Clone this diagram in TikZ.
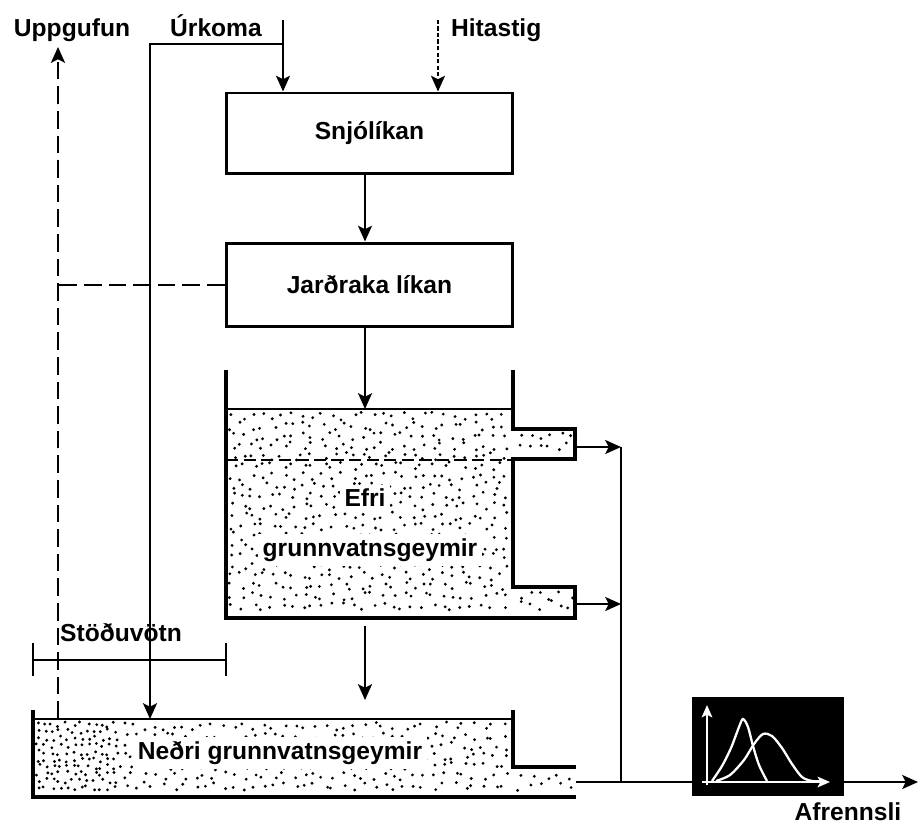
\documentclass[tikz,border=0pt]{standalone}
\usepackage{fontspec}
\setmainfont{Liberation Sans}
\usetikzlibrary{arrows.meta}
\begin{document}
\begin{tikzpicture}[x=0.02cm,y=-0.02cm,
  lbl/.style={font=\bfseries\fontsize{14}{16}\selectfont, inner sep=1pt},
  clearlbl/.style={lbl, fill=white, inner sep=2.5pt},
  modbox/.style={draw, line width=1.7pt, minimum width=5.74cm, font=\bfseries\fontsize{14}{16}\selectfont},
  conn/.style={line width=1.1pt},
  arr/.style={-{Stealth[length=9pt,width=8pt,inset=2pt]}},
  wall/.style={line width=1.8pt, line join=miter},
  longdash/.style={line width=1.2pt, dash pattern=on 10pt off 4pt},
  finedash/.style={line width=1pt, dash pattern=on 2.3pt off 1.4pt},
  tankdash/.style={line width=1.2pt, dash pattern=on 7pt off 3pt},
  dot/.style={fill=black}]
\useasboundingbox (0,0) rectangle (920,824);

% ---------- stipple (jittered grid) ----------
\pgfmathsetseed{42}
\foreach \gx in {229,239,...,505}{
  \foreach \gy in {412,422,...,608}{
    \pgfmathsetmacro\xx{\gx+8*rnd}\pgfmathsetmacro\yy{\gy+8*rnd}
    \fill[dot] (\xx,\yy) circle (0.9pt);}}
\foreach \gx in {516,526,...,566}{
  \foreach \gy in {432,442}{
    \pgfmathsetmacro\xx{\gx+7*rnd}\pgfmathsetmacro\yy{\gy+9*rnd}
    \fill[dot] (\xx,\yy) circle (0.9pt);}
  \foreach \gy in {590,600}{
    \pgfmathsetmacro\xx{\gx+7*rnd}\pgfmathsetmacro\yy{\gy+10*rnd}
    \fill[dot] (\xx,\yy) circle (0.9pt);}}
\foreach \gx in {36,43,...,113}{
  \foreach \gy in {722,729,...,788}{
    \pgfmathsetmacro\xx{\gx+5*rnd}\pgfmathsetmacro\yy{\gy+5*rnd}
    \fill[dot] (\xx,\yy) circle (0.9pt);}}
\foreach \gx in {120,130,...,505}{
  \foreach \gy in {722,732,...,782}{
    \pgfmathsetmacro\xx{\gx+8*rnd}\pgfmathsetmacro\yy{\gy+8*rnd}
    \fill[dot] (\xx,\yy) circle (0.9pt);}}
\foreach \gx in {516,528,...,564}{
  \foreach \gy in {771,783}{
    \pgfmathsetmacro\xx{\gx+9*rnd}\pgfmathsetmacro\yy{\gy+9*rnd}
    \fill[dot] (\xx,\yy) circle (0.9pt);}}

% ---------- upper tank ----------
\draw[wall] (226,370) -- (226,618) -- (575,618) -- (575,587) -- (513,587) -- (513,459)
  -- (575,459) -- (575,429) -- (513,429) -- (513,370);
\draw[line width=1.3pt] (226,409) -- (513,409);
\draw[tankdash] (226,460) -- (513,460);
\node[clearlbl] (efri) at (365,498) {Efri};
\node[clearlbl] (efri2) at (370,550) {grunnvatnsgeymir};

% ---------- lower tank ----------
\draw[wall] (33,710) -- (33,797) -- (576,797);
\draw[wall] (513,710) -- (513,767) -- (576,767);
\draw[line width=1.3pt] (33,719) -- (513,719);
\node[clearlbl] (nedri) at (280,753) {Neðri grunnvatnsgeymir};

% ---------- model boxes ----------
\node[modbox, minimum height=1.62cm] (snow) at (369.5,133.5) {Snjólíkan};
\node[modbox, minimum height=1.68cm] (jar) at (369.5,285) {Jarðraka líkan};

% ---------- labels ----------
\node[lbl, anchor=base] (upg) at (72,37) {Uppgufun};
\node[lbl, anchor=base] (urk) at (216,37) {Úrkoma};
\node[lbl, anchor=base west] (hit) at (449,37) {Hitastig};
\node[lbl] (stod) at (121,633) {Stöðuvötn};
\node[lbl] (afr) at (848,812) {Afrennsli};

% ---------- coordinates ----------
\coordinate (urk0) at (283,20);
\coordinate (urkJ) at (283,44);
\coordinate (urkL) at (150,44);
\coordinate (hit0) at (438,20);
\coordinate (upg0) at (58,719);
\coordinate (upg1) at (58,47);
\coordinate (utop) at (365,409);
\coordinate (ubot) at (365,626);
\coordinate (ltop) at (365,700);
\coordinate (lwt) at (150,719);
\coordinate (o1) at (576,447);
\coordinate (o2) at (576,604);
\coordinate (j1) at (621,447);
\coordinate (lo) at (576,782);
\coordinate (fe) at (918,782);
\coordinate (s1) at (33,660);
\coordinate (s2) at (226,660);

% ---------- connectors ----------
\draw[conn, arr] (urk0) -- (snow.north -| urk0);
\draw[conn, arr] (urkJ) -- (urkL) -- (lwt);
\draw[finedash, arr] (hit0) -- (snow.north -| hit0);
\draw[longdash, arr] (upg0) -- (upg1);
\draw[longdash] (jar.west) -- (jar.west -| upg0);
\draw[conn, arr] (snow.south -| utop) -- (jar.north -| utop);
\draw[conn, arr] (jar.south -| utop) -- (utop);
\draw[conn, arr] (ubot) -- (ltop);
\draw[conn, arr] (o1) -- (j1);
\draw[conn, arr] (o2) -- (o2 -| j1);
\draw[conn] (j1) -- (j1 |- lo);

% Stöðuvötn bracket
\draw[conn] (s1) -- (s2);
\draw[conn] (33,643) -- (33,676);
\draw[conn] (226,643) -- (226,676);

% ---------- hydrograph ----------
\node[fill=black, inner sep=0pt, minimum width=3.04cm, minimum height=1.98cm] (hyd) at (768,746.5) {};
\draw[conn] (lo) -- (lo -| hyd.west);
\draw[conn, arr] (fe -| hyd.east) -- (fe);
\begin{scope}[white, line width=1.3pt]
  \draw[-{Stealth[length=7pt,width=6pt,inset=1.5pt]}] (707,785) -- (707,705);
  \draw[-{Stealth[length=7pt,width=6pt,inset=1.5pt]}] (702,782) -- (830,782);
  \draw plot[smooth, tension=0.5] coordinates {(712,781) (722,766) (731,748) (739,727) (743,719) (748,727) (753,746) (759,765) (767,781)};
  \draw plot[smooth, tension=0.5] coordinates {(716,781) (730,775) (744,760) (754,744) (763,734) (772,736) (782,748) (792,764) (802,777) (812,781) (822,781)};
\end{scope}
\end{tikzpicture}
\end{document}
